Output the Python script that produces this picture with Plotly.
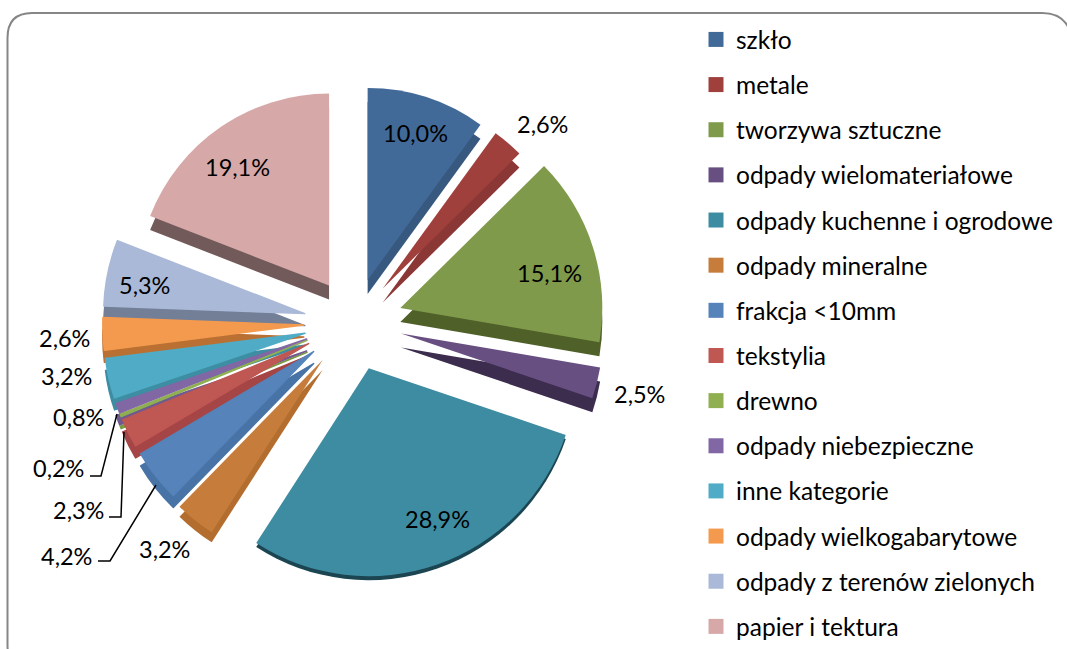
import plotly.graph_objects as go

W, H = 1067, 649
categories = ["szkło", "metale", "tworzywa sztuczne", "odpady wielomateriałowe",
              "odpady kuchenne i ogrodowe", "odpady mineralne", "frakcja <10mm", "tekstylia",
              "drewno", "odpady niebezpieczne", "inne kategorie", "odpady wielkogabarytowe",
              "odpady z terenów zielonych", "papier i tektura"]
values = [10.0, 2.6, 15.1, 2.5, 28.9, 3.2, 4.2, 2.3, 0.2, 0.8, 3.2, 2.6, 5.3, 19.1]
colors = ["#426A99", "#A0403D", "#7F9A4A", "#674F82", "#3D8CA2", "#C67C3B", "#5583BA", "#BF5753",
          "#8FAF50", "#8267A5", "#50ACC6", "#F49A4E", "#AAB9D8", "#D6A9A8"]
side_colors = ["#37587F", "#8A3735", "#506029", "#3C2C4E", "#1C4552", "#B36E2F", "#4873A6", "#A64545",
               "#7A9A3F", "#6F5A90", "#3D8DA3", "#BA7033", "#727F97", "#725A5A"]
label_pos = [(415, 133), (542, 124), (549, 273), (639, 394), (437, 519), (164, 549), (66, 556),
             (78, 510), (58, 468), (78, 417), (66, 376), (64, 338), (144, 285), (237, 167)]
leaders = [[(98, 561), (110, 561), (156, 485)], [(109, 517), (121, 517), (124, 432)],
           [(90, 476), (101, 476), (117, 414)]]
# The reference is a tilted 3-D pie: the back slices look smaller than the front ones.
# Each group of slices is one pie with its own centre, radius, side depth and edge width.
slice_groups = [
    ((0, 1, 13), 354, 322, 192, 14, 0),
    ((2, 3), 356, 322, 202, 14, 0),
    ((4,), 353, 323, 208, 4, 0),
    ((5,), 352, 323, 205, 10, 0),
    ((6, 7, 8, 9, 10, 11, 12), 350, 323, 201, 12, 1.5),
]

PULL = 0.23
FONT = "Lato, Carlito, sans-serif"
CLEAR = "rgba(0,0,0,0)"


def dom(cx, cy, r):
    half = r * (1 + PULL)
    return dict(x=[(cx - half) / W, (cx + half) / W],
                y=[1 - (cy + half) / H, 1 - (cy - half) / H])


common = dict(labels=categories, values=values, sort=False, direction="clockwise", rotation=0,
              pull=PULL, textinfo="none", hoverinfo="label+percent", showlegend=False)
fig = go.Figure()
for palette, use_depth in ((side_colors, True), (colors, False)):
    for members, cx, cy, r, depth, edge in slice_groups:
        cols = [palette[i] if i in members else CLEAR for i in range(len(values))]
        fig.add_trace(go.Pie(domain=dom(cx, cy + (depth if use_depth else 0), r),
                             marker=dict(colors=cols, line=dict(width=edge, color=cols)), **common))

for n, c in zip(categories, colors):
    fig.add_trace(go.Scatter(x=[None], y=[None], mode="markers", name=n, legendgroup=n,
                             marker=dict(symbol="square", size=15, color=c), showlegend=True))

annotations = [dict(x=x / W, y=1 - y / H, xref="paper", yref="paper", showarrow=False,
                    xanchor="center", yanchor="middle",
                    text=f"{v:.1f}%".replace(".", ","), font=dict(family=FONT, size=23.5, color="#000"))
               for v, (x, y) in zip(values, label_pos)]

shapes = [dict(type="path", xref="paper", yref="paper", layer="below",
               path=f"M {7.5 / W} {1 - 38 / H} Q {7.5 / W} {1 - 13 / H} {32 / W} {1 - 13 / H} "
                    f"L {1042 / W} {1 - 13 / H} Q {1067 / W} {1 - 13 / H} {1072 / W} {1 - 38 / H} "
                    f"L {1072 / W} {1 - 648 / H} Q {1072 / W} {1 - 672 / H} {1048 / W} {1 - 672 / H} "
                    f"L {32 / W} {1 - 672 / H} Q {7.5 / W} {1 - 672 / H} {7.5 / W} {1 - 645 / H} Z",
               line=dict(color="#868686", width=2))]
for pts in leaders:
    p = "M " + " L ".join(f"{x / W} {1 - y / H}" for x, y in pts)
    shapes.append(dict(type="path", xref="paper", yref="paper", path=p, line=dict(color="#000", width=1.5)))

fig.update_layout(width=W, height=H, margin=dict(l=0, r=0, t=0, b=0), paper_bgcolor="#fff", plot_bgcolor="#fff",
                  xaxis=dict(visible=False, range=[0, 1]), yaxis=dict(visible=False, range=[0, 1]),
                  font=dict(family=FONT, color="#000"), shapes=shapes, annotations=annotations,
                  legend=dict(x=696 / W, y=1 - 29 / H, xanchor="left", yanchor="top", tracegroupgap=10.3,
                              itemwidth=30, font=dict(family=FONT, size=24.5, color="#000"),
                              bgcolor="rgba(0,0,0,0)"))
fig.write_html("out.html", post_script="document.body.style.margin='0';",
               config=dict(displayModeBar=False))
